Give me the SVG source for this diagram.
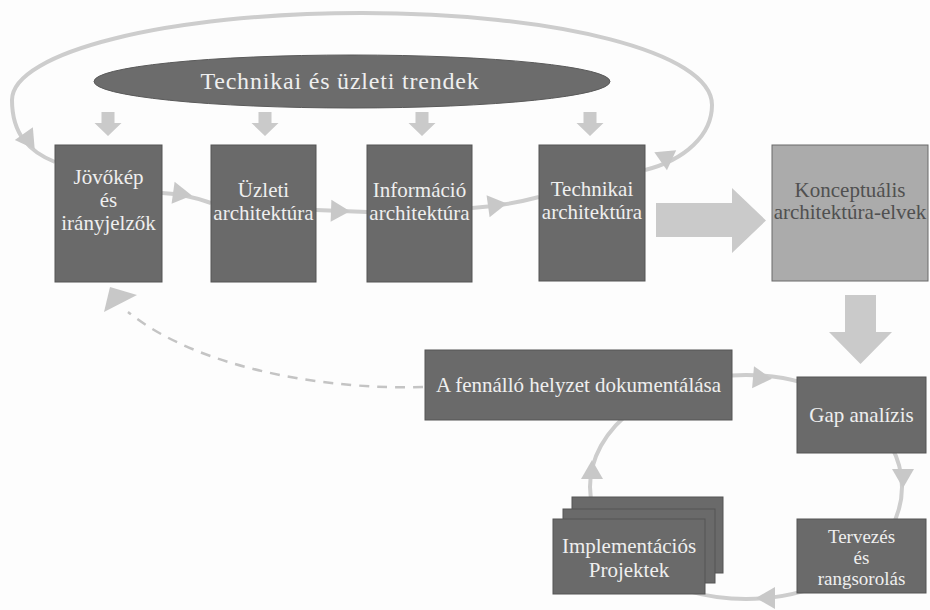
<svg xmlns="http://www.w3.org/2000/svg" xmlns:xlink="http://www.w3.org/1999/xlink" width="930" height="610" viewBox="0 0 930 610">
  <defs>
    <style>
      .box { fill: #6a6a6a; stroke: #555555; stroke-width: 1; }
      .lbox { fill: #ababab; stroke: #6a6a6a; stroke-width: 1; }
      .t { font-family: "Liberation Serif", "DejaVu Serif", serif; font-size: 21px; fill: #efefef; text-anchor: middle; }
      .td { fill: #505050; }
      .line { fill: none; stroke: #cdcdcd; stroke-width: 4; }
      .dash { fill: none; stroke: #c4c4c4; stroke-width: 2.5; stroke-dasharray: 10 8; }
      .ah { fill: #c8c8c8; }
      .blk { fill: #cacaca; }
    </style>
    <path id="ah" d="M10 0 L-9 -11 L-9 11 Z"/>
  </defs>
  <rect x="0" y="0" width="930" height="610" fill="#fdfdfd"/>

  <g id="connectors">
    <!-- big feedback loop -->
    <path class="line" d="M645 170 C685 160 712 135 712 105 C712 52 555 13 362 13 C169 13 12 52 12 100 C12 135 30 152 55 162"/>
    <use href="#ah" class="ah" transform="translate(29 141) rotate(55)"/>
    <use href="#ah" class="ah" transform="translate(668 156) rotate(-35)"/>
    <!-- chain connectors -->
    <path class="line" d="M162 193 Q186 194 211 203"/>
    <use href="#ah" class="ah" transform="translate(182 194) rotate(8)"/>
    <path class="line" d="M316 210 L367 212"/>
    <use href="#ah" class="ah" transform="translate(340 211) rotate(2)"/>
    <path class="line" d="M472 208 Q505 206 539 197"/>
    <use href="#ah" class="ah" transform="translate(497 205) rotate(-8)"/>
    <!-- trend arrows -->
    <path class="blk" d="M101.5 112 h13 v11 h7 l-13.5 13 l-13.5 -13 h7 z"/>
    <path class="blk" d="M258.5 112 h13 v11 h7 l-13.5 13 l-13.5 -13 h7 z"/>
    <path class="blk" d="M415.5 112 h13 v11 h7 l-13.5 13 l-13.5 -13 h7 z"/>
    <path class="blk" d="M583.5 112 h13 v11 h7 l-13.5 13 l-13.5 -13 h7 z"/>
    <!-- big block arrows -->
    <path class="blk" d="M656 203 H732 V188 L766 220.5 L732 253 V237 H656 Z"/>
    <path class="blk" d="M845 295 H876 V332 H892 L860.5 364 L829 332 H845 Z"/>
    <!-- cycle -->
    <ellipse class="line" cx="746" cy="487" rx="156" ry="112"/>
    <use href="#ah" class="ah" transform="translate(762 378) rotate(5)"/>
    <use href="#ah" class="ah" transform="translate(903 478) rotate(90)"/>
    <use href="#ah" class="ah" transform="translate(766 598) rotate(180)"/>
    <use href="#ah" class="ah" transform="translate(592 470) rotate(-90)"/>
    <!-- dashed feedback -->
    <path class="dash" d="M423 387 C330 390 200 370 128 312"/>
    <path class="ah" d="M104 312 L110 287 L137 295 Z"/>
  </g>

  <g id="trendek">
    <ellipse cx="352" cy="81.5" rx="258" ry="26.5" fill="#6c6c6c" stroke="#5a5a5a" stroke-width="1"/>
    <text class="t" x="340" y="89" style="font-size:24px; letter-spacing:0.8px">Technikai és üzleti trendek</text>
  </g>

  <g id="jovokep">
    <rect class="box" x="55" y="145" width="107" height="137"/>
    <text class="t" x="108.5" y="184">Jövőkép</text>
    <text class="t" x="108.5" y="207">és</text>
    <text class="t" x="108.5" y="230">irányjelzők</text>
  </g>

  <g id="uzleti">
    <rect class="box" x="211" y="145" width="105" height="137"/>
    <text class="t" x="263.5" y="197">Üzleti</text>
    <text class="t" x="263.5" y="220">architektúra</text>
  </g>

  <g id="informacio">
    <rect class="box" x="367" y="145" width="105" height="137"/>
    <text class="t" x="419.5" y="197">Információ</text>
    <text class="t" x="419.5" y="220">architektúra</text>
  </g>

  <g id="technikai">
    <rect class="box" x="539" y="145" width="106" height="136"/>
    <text class="t" x="592" y="196">Technikai</text>
    <text class="t" x="592" y="219">architektúra</text>
  </g>

  <g id="konceptualis">
    <rect class="lbox" x="772" y="145" width="156" height="136"/>
    <text class="t td" x="850" y="197">Konceptuális</text>
    <text class="t td" x="850" y="219">architektúra-elvek</text>
  </g>

  <g id="fennallo">
    <rect class="box" x="425" y="350" width="307" height="70"/>
    <text class="t" x="578.5" y="392">A fennálló helyzet dokumentálása</text>
  </g>

  <g id="gap">
    <rect class="box" x="797" y="377" width="129" height="76"/>
    <text class="t" x="861.5" y="422">Gap analízis</text>
  </g>

  <g id="tervezes">
    <rect class="box" x="797" y="519" width="129" height="74"/>
    <text class="t" x="861.5" y="543" style="font-size:19px">Tervezés</text>
    <text class="t" x="861.5" y="564" style="font-size:19px">és</text>
    <text class="t" x="861.5" y="585" style="font-size:19px">rangsorolás</text>
  </g>

  <g id="implementacio">
    <rect class="box" x="572" y="497" width="151" height="76"/>
    <rect class="box" x="563" y="509" width="152" height="74"/>
    <rect class="box" x="553" y="519" width="152" height="75"/>
    <text class="t" x="629" y="553">Implementációs</text>
    <text class="t" x="629" y="577">Projektek</text>
  </g>
</svg>
